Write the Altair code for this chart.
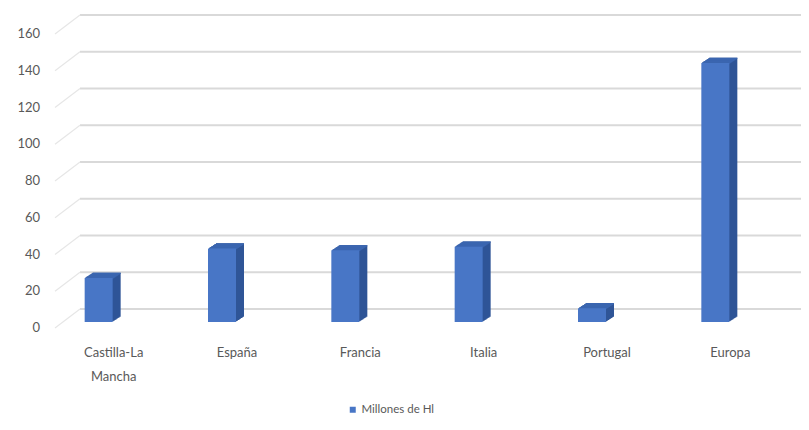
import altair as alt
import pandas as pd

categories = ["Castilla-La Mancha", "España", "Francia", "Italia", "Portugal", "Europa"]
values = [24, 40, 39, 41, 7.5, 141]
series_name = "Millones de Hl"
y_ticks = [0, 20, 40, 60, 80, 100, 120, 140, 160]

FRONT = "#4876c6"
SIDE = "#2f5597"
TOP = "#3b66b0"
GRID = "#d9d9d9"
TXT = "#595959"
FONT = "Lato"

df = pd.DataFrame({"cat": categories, "val": values, "serie": [series_name] * len(values)})
ticks = pd.DataFrame({"v": y_ticks})

xs = alt.Scale(domain=categories, paddingInner=0, paddingOuter=0)
ys = alt.Scale(domain=[0, 160], nice=False, zero=True)

x_axis = alt.Axis(labelAngle=0, domain=False, ticks=False, grid=False,
                  labelPadding=24, labelOffset=15, labelFont=FONT,
                  labelFontSize=13, labelColor=TXT, labelLineHeight=24,
                  labelExpr="datum.value == 'Castilla-La Mancha' ? ['Castilla-La', 'Mancha'] : datum.label")

def bx():
    return alt.X("cat:N", scale=xs, sort=categories, title=None, axis=x_axis)

DEPTH = 8
SLOPE = 0.65

layers = []

grid_h = alt.Chart(ticks).mark_rule(color=GRID, strokeWidth=1.8, yOffset=-13).encode(
    y=alt.Y("v:Q", scale=ys, axis=None),
    x=alt.value(43), x2=alt.value(772),
)
grid_s = alt.Chart(ticks).mark_rule(color="#e6e6e6", strokeWidth=1.2, yOffset=6, y2Offset=-13).encode(
    y=alt.Y("v:Q", scale=ys, axis=None),
    y2=alt.Y2("v:Q"),
    x=alt.value(18), x2=alt.value(43),
)
ylab = alt.Chart(ticks).mark_text(align="right", baseline="middle", dy=6, font=FONT,
                                  fontSize=13, color=TXT).encode(
    y=alt.Y("v:Q", scale=ys, axis=None),
    x=alt.value(3),
    text=alt.Text("v:Q"),
)
layers += [grid_h, grid_s, ylab]

for i in range(DEPTH, 0, -1):
    dy = -SLOPE * i
    layers.append(
        alt.Chart(df).mark_bar(size=28, color=SIDE, xOffset=i, x2Offset=i,
                               yOffset=dy, y2Offset=dy).encode(
            x=bx(), y=alt.Y("val:Q", scale=ys, axis=None)
        )
    )
for i in range(DEPTH, 0, -1):
    dy = -SLOPE * i
    layers.append(
        alt.Chart(df).mark_bar(size=28, color=TOP, xOffset=i, x2Offset=i,
                               yOffset=dy, y2Offset=dy + 1.3).encode(
            x=bx(),
            y=alt.Y("val:Q", scale=ys, axis=None),
            y2=alt.Y2("val:Q"),
        )
    )

front = alt.Chart(df).mark_bar(size=28).encode(
    x=bx(),
    y=alt.Y("val:Q", scale=ys, axis=None),
    color=alt.Color("serie:N", scale=alt.Scale(domain=[series_name], range=[FRONT]),
                    legend=alt.Legend(title=None, orient="none", legendX=310, legendY=376,
                                      symbolType="square", symbolSize=36, labelFont=FONT,
                                      labelFontSize=11.5, labelColor=TXT, symbolStrokeWidth=0,
                                      labelOffset=3)),
)
layers.append(front)

chart = alt.layer(*layers).properties(
    width=740, height=294,
    autosize=alt.AutoSizeParams(type="none"),
    padding={"left": 29, "top": 20, "right": 24, "bottom": 100},
    background="white",
).configure_view(stroke=None)

chart.save("out.html", embed_options={"renderer": "svg", "actions": False})
